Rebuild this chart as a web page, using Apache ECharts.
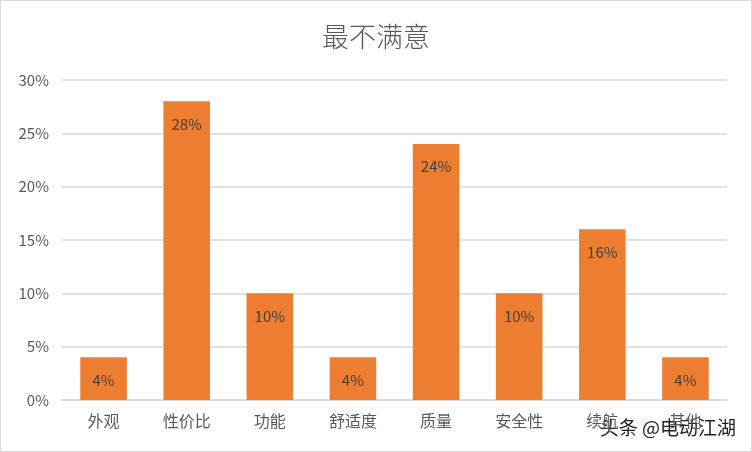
<!DOCTYPE html>
<html><head><meta charset="utf-8">
<script src="https://cdn.jsdelivr.net/npm/echarts@6/dist/echarts.min.js"></script>
<style>html,body{margin:0;padding:0;background:#fff}#c{width:750px;height:450px;border:1px solid #d9d9d9}</style>
</head><body><div id="c"></div>
<script>
var categories = ['外观','性价比','功能','舒适度','质量','安全性','续航','其他'];
var values = [4, 28, 10, 4, 24, 10, 16, 4];
var yTicks = [0, 5, 10, 15, 20, 25, 30];
var chart = echarts.init(document.getElementById('c'));
var font = '"Microsoft YaHei","Noto Sans CJK SC",sans-serif';
chart.setOption({
  animation: false,
  title: {text: '最不满意', left: 'center', top: 17,
    textStyle: {fontFamily: font, fontSize: 27, fontWeight: 300, color: '#595959'}},
  grid: {left: 61, right: 24, top: 79, bottom: 51},
  xAxis: {type: 'category', data: categories,
    axisLine: {lineStyle: {color: '#d9d9d9', width: 1.5}}, axisTick: {show: false},
    axisLabel: {fontFamily: font, fontSize: 16, color: '#595959', margin: 13}},
  yAxis: {type: 'value', min: yTicks[0], max: yTicks[yTicks.length-1], interval: 5,
    axisLine: {show: false}, axisTick: {show: false},
    splitLine: {lineStyle: {color: '#d9d9d9', width: 1.5}},
    axisLabel: {fontFamily: font, fontSize: 15, color: '#595959', margin: 13, formatter: '{value}%'}},
  series: [{type: 'bar', data: values, barWidth: '56%',
    itemStyle: {color: '#ED7D31'},
    label: {show: true, position: 'insideTop', distance: 15, formatter: '{c}%',
      fontFamily: font, fontSize: 15, color: '#3f3f3f'}}],
  graphic: [{type: 'text', right: 14, bottom: 13,
    style: {text: '头条 @电动江湖', fontFamily: font, fontSize: 19, fill: '#222',
      stroke: '#fff', lineWidth: 2}}]
});
</script></body></html>
